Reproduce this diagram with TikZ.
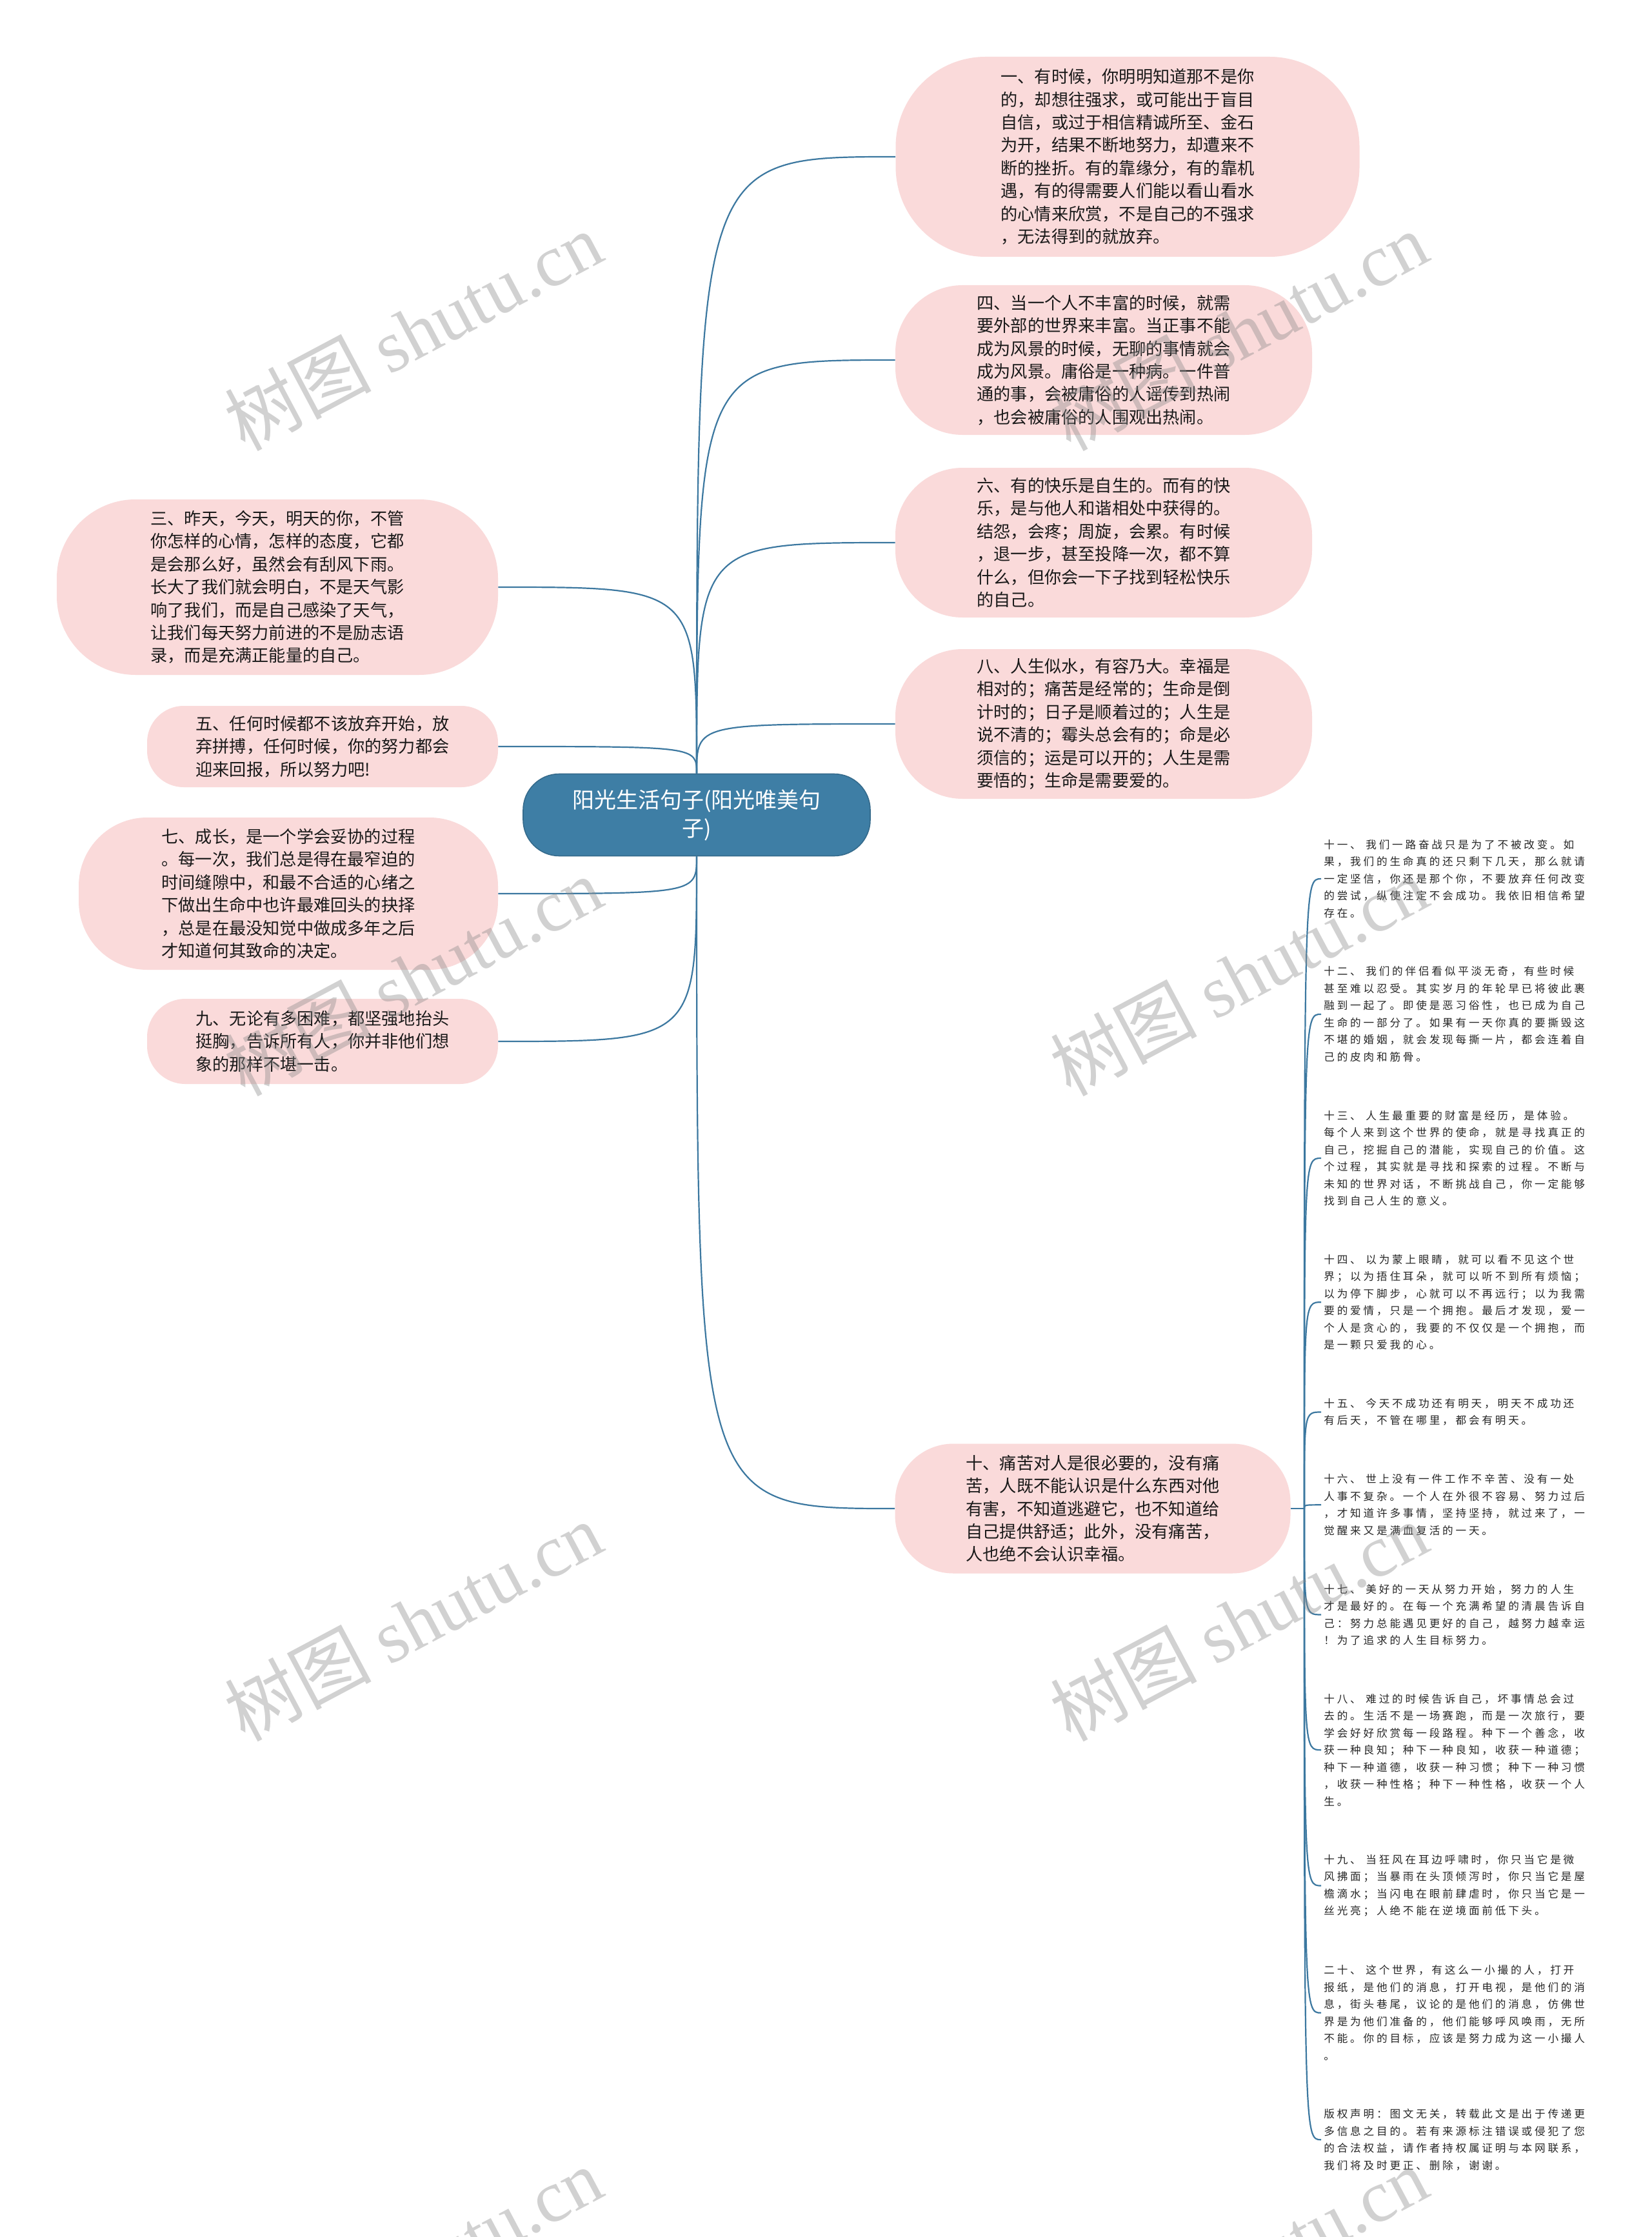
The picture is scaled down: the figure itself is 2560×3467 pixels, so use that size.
\documentclass[tikz,border=0pt]{standalone}
\usepackage{fontspec}
\setmainfont{Noto Sans CJK SC}
\newfontfamily\smallcjk[LetterSpace=23]{Noto Sans CJK SC}
\newfontfamily\wmserif{Liberation Serif}
\usetikzlibrary{positioning}
\definecolor{leafpink}{RGB}{250,218,218}
\definecolor{rootblue}{RGB}{62,126,165}
\definecolor{linkblue}{RGB}{60,120,160}
\newcommand{\leaffont}{\fontsize{13.1pt}{17.7pt}\selectfont}
\newcommand{\rootfont}{\fontsize{17pt}{22pt}\selectfont}
\newcommand{\itemfont}{\smallcjk\fontsize{8.3pt}{13.25pt}\selectfont}

\begin{document}
\begin{tikzpicture}[x=0.5pt,y=-0.5pt,node distance=37.2pt,
  leaf/.style n args={2}{fill=leafpink,rounded corners={0.45*#2},minimum width=#1,minimum height=#2,inner sep=0pt,align=left,font=\leaffont,text=black!90},
  root/.style={fill=rootblue,draw=rootblue!85!black,line width=0.8pt,rounded corners=28pt,minimum width=269pt,minimum height=63.5pt,inner sep=0pt,align=center,font=\rootfont,text=white},
  item/.style={inner xsep=2pt,inner ysep=0pt,align=left,font=\itemfont,text=black!85},
  branch/.style={draw=linkblue,line width=1.1pt},
  wmark/.style={rotate=28,font=\fontsize{57pt}{57pt}\selectfont,text=black!45,opacity=0.4}]
\fill[white] (0,0) rectangle (2560,3467);
\useasboundingbox (0,0) rectangle (2560,3467);

% centre
\node[root] (root) at (1080,1263) {阳光生活句子(阳光唯美句\\子)};

% right side, big cards
\node[leaf={359.5pt}{155pt}] (n1) at (1748,243) {一、有时候，你明明知道那不是你\\的，却想往强求，或可能出于盲目\\自信，或过于相信精诚所至、金石\\为开，结果不断地努力，却遭来不\\断的挫折。有的靠缘分，有的靠机\\遇，有的得需要人们能以看山看水\\的心情来欣赏，不是自己的不强求\\，无法得到的就放弃。};
\node[leaf={323pt}{116pt}] (n4) at (1711,558) {四、当一个人不丰富的时候，就需\\要外部的世界来丰富。当正事不能\\成为风景的时候，无聊的事情就会\\成为风景。庸俗是一种病。一件普\\通的事，会被庸俗的人谣传到热闹\\，也会被庸俗的人围观出热闹。};
\node[leaf={323pt}{116pt}] (n6) at (1711,841) {六、有的快乐是自生的。而有的快\\乐，是与他人和谐相处中获得的。\\结怨，会疼；周旋，会累。有时候\\，退一步，甚至投降一次，都不算\\什么，但你会一下子找到轻松快乐\\的自己。};
\node[leaf={323pt}{116pt}] (n8) at (1711,1122) {八、人生似水，有容乃大。幸福是\\相对的；痛苦是经常的；生命是倒\\计时的；日子是顺着过的；人生是\\说不清的；霉头总会有的；命是必\\须信的；运是可以开的；人生是需\\要悟的；生命是需要爱的。};
\node[leaf={306.5pt}{100.5pt}] (n10) at (1694,2338) {十、痛苦对人是很必要的，没有痛\\苦，人既不能认识是什么东西对他\\有害，不知道逃避它，也不知道给\\自己提供舒适；此外，没有痛苦，\\人也绝不会认识幸福。};

% left side
\node[leaf={342pt}{136pt}] (n3) at (430,910) {三、昨天，今天，明天的你，不管\\你怎样的心情，怎样的态度，它都\\是会那么好，虽然会有刮风下雨。\\长大了我们就会明白，不是天气影\\响了我们，而是自己感染了天气，\\让我们每天努力前进的不是励志语\\录，而是充满正能量的自己。};
\node[leaf={272pt}{63pt}] (n5) at (500,1157) {五、任何时候都不该放弃开始，放\\弃拼搏，任何时候，你的努力都会\\迎来回报，所以努力吧!};
\node[leaf={325pt}{118pt}] (n7) at (447,1385) {七、成长，是一个学会妥协的过程\\。每一次，我们总是得在最窄迫的\\时间缝隙中，和最不合适的心绪之\\下做出生命中也许最难回头的抉择\\，总是在最没知觉中做成多年之后\\才知道何其致命的决定。};
\node[leaf={272pt}{66pt}] (n9) at (500,1614) {九、无论有多困难，都坚强地抬头\\挺胸，告诉所有人，你并非他们想\\象的那样不堪一击。};

% small items under 十
\node[item,anchor=west] (s11) at (2048,1362) {十一、 我们一路奋战只是为了不被改变。如\\果，我们的生命真的还只剩下几天，那么就请\\一定坚信，你还是那个你，不要放弃任何改变\\的尝试，纵使注定不会成功。我依旧相信希望\\存在。};
\node[item,below=of s11.south west,anchor=north west] (s12) {十二、 我们的伴侣看似平淡无奇，有些时候\\甚至难以忍受。其实岁月的年轮早已将彼此裹\\融到一起了。即使是恶习俗性，也已成为自己\\生命的一部分了。如果有一天你真的要撕毁这\\不堪的婚姻，就会发现每撕一片，都会连着自\\己的皮肉和筋骨。};
\node[item,below=of s12.south west,anchor=north west] (s13) {十三、 人生最重要的财富是经历，是体验。\\每个人来到这个世界的使命，就是寻找真正的\\自己，挖掘自己的潜能，实现自己的价值。这\\个过程，其实就是寻找和探索的过程。不断与\\未知的世界对话，不断挑战自己，你一定能够\\找到自己人生的意义。};
\node[item,below=of s13.south west,anchor=north west] (s14) {十四、 以为蒙上眼睛，就可以看不见这个世\\界；以为捂住耳朵，就可以听不到所有烦恼；\\以为停下脚步，心就可以不再远行；以为我需\\要的爱情，只是一个拥抱。最后才发现，爱一\\个人是贪心的，我要的不仅仅是一个拥抱，而\\是一颗只爱我的心。};
\node[item,below=of s14.south west,anchor=north west] (s15) {十五、 今天不成功还有明天，明天不成功还\\有后天，不管在哪里，都会有明天。};
\node[item,below=of s15.south west,anchor=north west] (s16) {十六、 世上没有一件工作不辛苦、没有一处\\人事不复杂。一个人在外很不容易、努力过后\\，才知道许多事情，坚持坚持，就过来了，一\\觉醒来又是满血复活的一天。};
\node[item,below=of s16.south west,anchor=north west] (s17) {十七、 美好的一天从努力开始，努力的人生\\才是最好的。在每一个充满希望的清晨告诉自\\己：努力总能遇见更好的自己，越努力越幸运\\！为了追求的人生目标努力。};
\node[item,below=of s17.south west,anchor=north west] (s18) {十八、 难过的时候告诉自己，坏事情总会过\\去的。生活不是一场赛跑，而是一次旅行，要\\学会好好欣赏每一段路程。种下一个善念，收\\获一种良知；种下一种良知，收获一种道德；\\种下一种道德，收获一种习惯；种下一种习惯\\，收获一种性格；种下一种性格，收获一个人\\生。};
\node[item,below=of s18.south west,anchor=north west] (s19) {十九、 当狂风在耳边呼啸时，你只当它是微\\风拂面；当暴雨在头顶倾泻时，你只当它是屋\\檐滴水；当闪电在眼前肆虐时，你只当它是一\\丝光亮；人绝不能在逆境面前低下头。};
\node[item,below=of s19.south west,anchor=north west] (s20) {二十、 这个世界，有这么一小撮的人，打开\\报纸，是他们的消息，打开电视，是他们的消\\息，街头巷尾，议论的是他们的消息，仿佛世\\界是为他们准备的，他们能够呼风唤雨，无所\\不能。你的目标，应该是努力成为这一小撮人\\。};
\node[item,below=of s20.south west,anchor=north west] (note) {版权声明：图文无关，转载此文是出于传递更\\多信息之目的。若有来源标注错误或侵犯了您\\的合法权益，请作者持权属证明与本网联系，\\我们将及时更正、删除，谢谢。};

% connectors
\draw[branch] (root.north) .. controls (root.north |- n1.west) .. (n1.west); \draw[branch] (root.north) .. controls (root.north |- n4.west) .. (n4.west);
\draw[branch] (root.north) .. controls (root.north |- n6.west) .. (n6.west); \draw[branch] (root.north) .. controls (root.north |- n8.west) .. (n8.west);
\draw[branch] (root.north) .. controls (root.north |- n3.east) .. (n3.east); \draw[branch] (root.north) .. controls (root.north |- n5.east) .. (n5.east);
\draw[branch] (root.south) .. controls (root.south |- n7.east) .. (n7.east); \draw[branch] (root.south) .. controls (root.south |- n9.east) .. (n9.east);
\draw[branch] (root.south) .. controls (root.south |- n10.west) .. (n10.west);
\coordinate[right=10.5pt of n10.east] (hub);
\draw[branch] (n10.east) -- (hub);
\foreach \s in {s11,s12,s13,s14,s15,s16,s17,s18,s19,s20,note}
  \draw[branch] (hub) .. controls (hub |- \s.west) .. (\s.west);

% watermarks
\node[wmark] (wm1) at (640,513) {树图 {\wmserif shutu.cn}};
\node[wmark] (wm2) at (1920,513) {树图 {\wmserif shutu.cn}};
\node[wmark] (wm3) at (640,1513) {树图 {\wmserif shutu.cn}};
\node[wmark] (wm4) at (1920,1513) {树图 {\wmserif shutu.cn}};
\node[wmark] (wm5) at (640,2513) {树图 {\wmserif shutu.cn}};
\node[wmark] (wm6) at (1920,2513) {树图 {\wmserif shutu.cn}};
\node[wmark] (wm7) at (640,3513) {树图 {\wmserif shutu.cn}};
\node[wmark] (wm8) at (1920,3513) {树图 {\wmserif shutu.cn}};
\end{tikzpicture}
\end{document}
